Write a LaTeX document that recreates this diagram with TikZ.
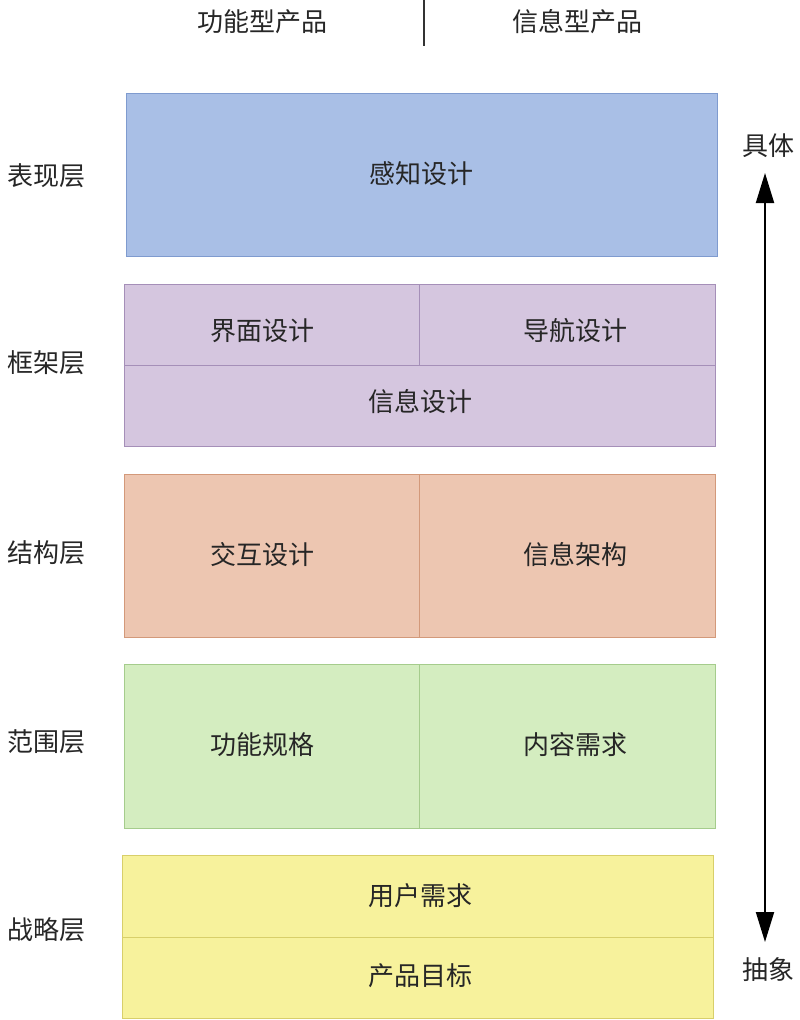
\documentclass[tikz,border=0pt]{standalone}
\usepackage{fontspec}
\setmainfont{Noto Sans CJK SC}
\usetikzlibrary{arrows.meta}
\definecolor{bb}{HTML}{A9BFE6}\definecolor{bbd}{HTML}{7F9BCF}
\definecolor{pp}{HTML}{D5C6DF}\definecolor{ppd}{HTML}{A58FB8}
\definecolor{oo}{HTML}{EDC6B1}\definecolor{ood}{HTML}{D3997A}
\definecolor{gg}{HTML}{D4EDC0}\definecolor{ggd}{HTML}{A5CC8C}
\definecolor{yy}{HTML}{F7F29C}\definecolor{yyd}{HTML}{D8CF6A}
\tikzset{txt/.style={font=\fontsize{26}{30}\selectfont,text=black!85},
cell/.style={line width=1pt}}
\begin{document}
\begin{tikzpicture}[x=1pt,y=-1pt]
\useasboundingbox (0,0) rectangle (800,1020);
\node[txt] (h1) at (262,22) {功能型产品};
\node[txt] (h2) at (577,22) {信息型产品};
\draw[line width=1.2pt,black!80] (424,0) -- (424,46);
% layer 1
\draw[cell,fill=bb,draw=bbd] (126,93) rectangle (717,256);
\node[txt] (a) at (421,174) {感知设计};
% layer 2
\draw[cell,fill=pp,draw=ppd] (124,284) rectangle (715,446);
\draw[cell,draw=ppd] (124,365) -- (715,365) (419,284) -- (419,365);
\node[txt] (b1) at (262,331) {界面设计};
\node[txt] (b2) at (575,331) {导航设计};
\node[txt] (b3) at (420,402) {信息设计};
% layer 3
\draw[cell,fill=oo,draw=ood] (124,474) rectangle (715,637);
\draw[cell,draw=ood] (419,474) -- (419,637);
\node[txt] (c1) at (262,555) {交互设计};
\node[txt] (c2) at (575,555) {信息架构};
% layer 4
\draw[cell,fill=gg,draw=ggd] (124,664) rectangle (715,828);
\draw[cell,draw=ggd] (419,664) -- (419,828);
\node[txt] (d1) at (262,745) {功能规格};
\node[txt] (d2) at (575,745) {内容需求};
% layer 5
\draw[cell,fill=yy,draw=yyd] (122,855) rectangle (713,1018);
\draw[cell,draw=yyd] (122,937) -- (713,937);
\node[txt] (e1) at (420,896) {用户需求};
\node[txt] (e2) at (420,976) {产品目标};
% left labels
\node[txt] (l1) at (47,176) {表现层};
\node[txt] (l2) at (47,363) {框架层};
\node[txt] (l3) at (47,553) {结构层};
\node[txt] (l4) at (47,742) {范围层};
\node[txt] (l5) at (47,930) {战略层};
% arrow
\node[txt] (top) at (768,146) {具体};
\node[txt] (bot) at (768,970) {抽象};
\coordinate (p1) at (765,173);
\coordinate (p2) at (765,942);
\draw[line width=2pt,{Triangle[length=30pt,width=18pt]}-{Triangle[length=30pt,width=18pt]}] (p1) -- (p2);
\end{tikzpicture}
\end{document}
